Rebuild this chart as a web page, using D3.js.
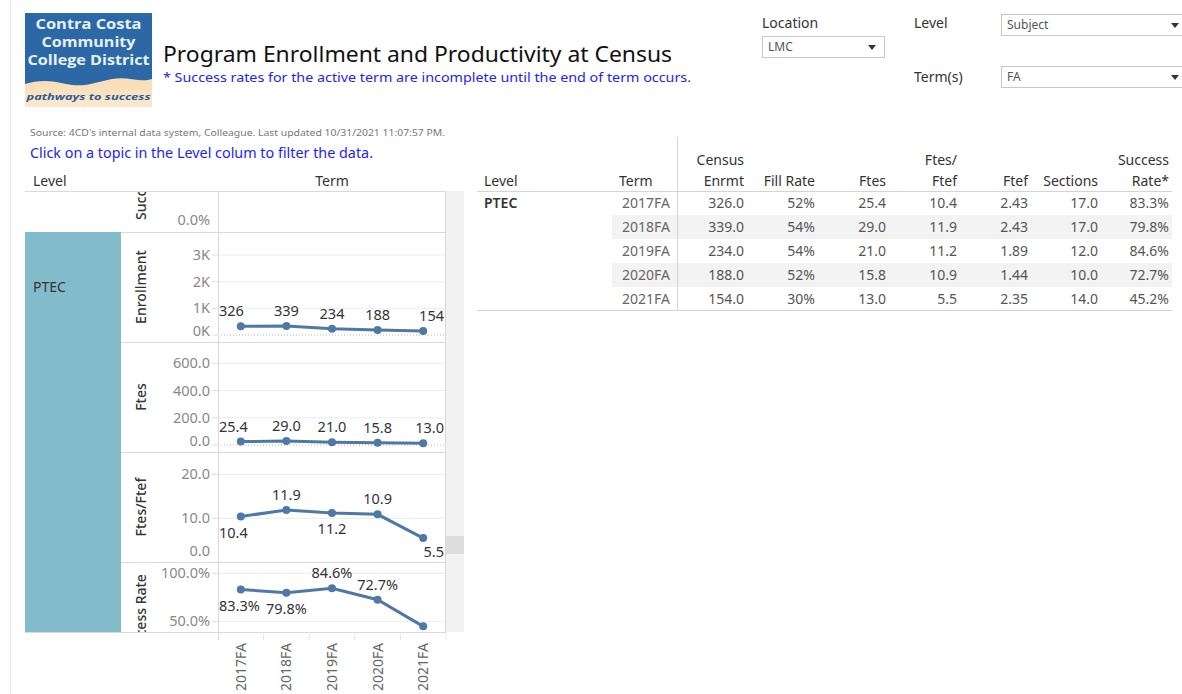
<!DOCTYPE html>
<html><head><meta charset="utf-8">
<script src="https://cdn.jsdelivr.net/npm/d3@7"></script>
<style>
html,body{margin:0;padding:0;background:#fff;}
svg{display:block;font-family:"Noto Sans",sans-serif;}
</style></head>
<body><svg id="c" width="1182" height="694"></svg>
<script>
// ---- data ----
const terms = ["2017FA","2018FA","2019FA","2020FA","2021FA"];
const enrollment = [326, 339, 234, 188, 154];
const ftes = [25.4, 29.0, 21.0, 15.8, 13.0];
const ftesPerFtef = [10.4, 11.9, 11.2, 10.9, 5.5];
const successRate = [83.3, 79.8, 84.6, 72.7, 45.2];
const fillRate = [52, 54, 54, 52, 30];
const ftef = [2.43, 2.43, 1.89, 1.44, 2.35];
const sections = [17.0, 17.0, 12.0, 10.0, 14.0];
const enrollTicks = [0, 1000, 2000, 3000];
const ftesTicks = [0, 200, 400, 600];
const ratioTicks = [0, 10, 20];
const successTicks = [50, 100];
const level = "PTEC";
// label placement (above / below point)
const ratioLabelPos = ["below","above","below","above","below"];
const successLabelPos = ["below","below","above","above","none"];

const svg = d3.select("#c");
const blue = "#4e79a7";
const txt = "#333";
const axGray = "#888";
const lineGray = "#d9d9d9";

svg.append("rect").attr("width",1182).attr("height",694).attr("fill","#fff");
svg.append("line").attr("x1",10.5).attr("x2",10.5).attr("y1",0).attr("y2",694).attr("stroke","#e8e8e8");

// ---- logo ----
const logo = svg.append("g");
const defs = svg.append("defs");
const grad = defs.append("linearGradient").attr("id","sand").attr("x1",0).attr("y1",0).attr("x2",0).attr("y2",1);
grad.append("stop").attr("offset","0%").attr("stop-color","#f2bf75");
grad.append("stop").attr("offset","100%").attr("stop-color","#fbe9cf");
logo.append("rect").attr("x",25).attr("y",13).attr("width",127).attr("height",94).attr("fill","url(#sand)");
logo.append("path").attr("d","M25,13 H152 V79 C140,83 128,76 112,79 C96,82 84,88 66,84 C50,80 38,80 25,84 Z").attr("fill","#2c68a6");
const lt = logo.append("g").attr("fill","#e8f0f8").attr("font-family","'Liberation Sans Narrow','Open Sans',sans-serif").attr("font-weight","bold").attr("text-anchor","middle").attr("font-size",14.5);
[["Contra Costa",29,106],["Community",47,94],["College District",65,122]].forEach(d=>{
  lt.append("text").attr("x",88.5).attr("y",d[1]).attr("textLength",d[2]).attr("lengthAdjust","spacingAndGlyphs").text(d[0]);
});
logo.append("text").attr("x",88.5).attr("y",100).attr("text-anchor","middle").attr("font-size",8.5).attr("font-style","italic").attr("font-weight","bold")
  .attr("fill","#2c5c96").attr("textLength",124).attr("lengthAdjust","spacingAndGlyphs").text("pathways to success");

// ---- titles ----
svg.append("text").attr("x",163).attr("y",62).attr("font-size",22).attr("fill","#111")
  .attr("textLength",509).attr("lengthAdjust","spacingAndGlyphs").text("Program Enrollment and Productivity at Census");
svg.append("text").attr("x",163).attr("y",82).attr("font-size",13).attr("fill","#2424f0")
  .attr("textLength",528).attr("lengthAdjust","spacingAndGlyphs").text("* Success rates for the active term are incomplete until the end of term occurs.");
svg.append("text").attr("x",30).attr("y",136).attr("font-size",8).attr("fill","#777")
  .attr("textLength",415).attr("lengthAdjust","spacingAndGlyphs").text("Source: 4CD's internal data system, Colleague. Last updated 10/31/2021 11:07:57 PM.");
svg.append("text").attr("x",30).attr("y",158).attr("font-size",14).attr("fill","#2424f0")
  .attr("textLength",343).attr("lengthAdjust","spacingAndGlyphs").text("Click on a topic in the Level colum to filter the data.");

// ---- filters ----
function label(x,y,t){ svg.append("text").attr("x",x).attr("y",y).attr("font-size",14).attr("fill",txt).text(t); }
function dropdown(x,y,w,t){
  svg.append("rect").attr("x",x+0.5).attr("y",y+0.5).attr("width",w).attr("height",21).attr("fill","#fff").attr("stroke","#c8c8c8");
  svg.append("text").attr("x",x+6).attr("y",y+15).attr("font-size",12).attr("fill","#555").text(t);
  const ax = x+w-12;
  svg.append("path").attr("d",`M${ax-4},${y+9} L${ax+4},${y+9} L${ax},${y+14} Z`).attr("fill","#333");
}
label(762,28,"Location"); dropdown(762,36,122,"LMC");
label(914,28,"Level"); dropdown(1001,14,186,"Subject");
label(914,82,"Term(s)"); dropdown(1001,66,186,"FA");

// ---- left chart ----
const x = d3.scaleBand().domain(terms).range([218,446]);
svg.append("text").attr("x",33).attr("y",186).attr("font-size",14).attr("fill",txt).text("Level");
svg.append("text").attr("x",332).attr("y",186).attr("font-size",14).attr("fill",txt).attr("text-anchor","middle").text("Term");

// scrollbar
svg.append("rect").attr("x",446).attr("y",191).attr("width",18).attr("height",441).attr("fill","#f2f2f2");
svg.append("rect").attr("x",446).attr("y",536).attr("width",18).attr("height",18).attr("fill","#dcdcdc");

// teal level cell
svg.append("rect").attr("x",25).attr("y",232).attr("width",96).attr("height",400).attr("fill","#82bccb");
svg.append("text").attr("x",33).attr("y",292).attr("font-size",14).attr("fill",txt).text(level);

const panes = [
  {name:"Success Rate", top:122, bot:232, clipTop:191, clipBot:232, y:d3.scaleLinear().domain([50,100]).range([220.7,172.3]), ticks:[], fmt:d=>d.toFixed(1)+"%", values:null, extraLabel:{text:"0.0%", y:224}},
  {name:"Enrollment", top:232, bot:342, clipTop:232, clipBot:342, y:d3.scaleLinear().domain([0,3000]).range([335,255]), ticks:enrollTicks, fmt:d=>(d/1000)+"K", values:enrollment, lfmt:d=>String(d), lpos:["above","above","above","above","above"], zeroDot:true},
  {name:"Ftes", top:342, bot:452, clipTop:342, clipBot:452, y:d3.scaleLinear().domain([0,600]).range([445,363.3]), ticks:ftesTicks, fmt:d=>d.toFixed(1), values:ftes, lfmt:d=>d.toFixed(1), lpos:["above","above","above","above","above"], zeroDot:true},
  {name:"Ftes/Ftef", top:452, bot:562, clipTop:452, clipBot:562, y:d3.scaleLinear().domain([0,20]).range([562.3,474.3]), ticks:ratioTicks, fmt:d=>d.toFixed(1), values:ftesPerFtef, lfmt:d=>d.toFixed(1), lpos:ratioLabelPos},
  {name:"Success Rate", top:562, bot:672, clipTop:562, clipBot:632, y:d3.scaleLinear().domain([50,100]).range([621.7,573.3]), ticks:successTicks, fmt:d=>d.toFixed(1)+"%", values:successRate, lfmt:d=>d.toFixed(1)+"%", lpos:successLabelPos}
];

panes.forEach((p,i)=>{
  const cid = "clip"+i, cid2 = "clipT"+i;
  defs.append("clipPath").attr("id",cid).append("rect").attr("x",121).attr("y",p.clipTop).attr("width",97).attr("height",p.clipBot-p.clipTop);
  defs.append("clipPath").attr("id",cid2).append("rect").attr("x",218).attr("y",p.clipTop).attr("width",228).attr("height",p.clipBot-p.clipTop);
  const ga = svg.append("g").attr("clip-path",`url(#${cid})`);
  const gp = svg.append("g").attr("clip-path",`url(#${cid2})`);
  const cy = (p.top+p.bot)/2;
  ga.append("text").attr("transform",`translate(146,${cy}) rotate(-90)`).attr("text-anchor","middle")
    .attr("font-size",14).attr("font-weight",500).attr("fill",txt).text(p.name);
  p.ticks.forEach(t=>{
    const yy = p.y(t);
    const isZero = (t===0 && p.zeroDot);
    gp.append("line").attr("x1",218).attr("x2",446).attr("y1",yy).attr("y2",yy)
      .attr("stroke", isZero?"#b5b5b5":"#ececec").attr("stroke-dasharray", isZero?"1,2":null);
    let ly = yy;
    if (ly > p.clipBot-11) ly = p.clipBot-11;
    ga.append("line").attr("x1",212).attr("x2",218).attr("y1",yy).attr("y2",yy).attr("stroke","#ddd");
    ga.append("text").attr("x",210).attr("y",ly).attr("dy","0.35em").attr("text-anchor","end").attr("font-size",14.5).attr("fill",axGray).text(p.fmt(t));
  });
  if (p.extraLabel) {
    ga.append("text").attr("x",210).attr("y",p.extraLabel.y-4).attr("dy","0.35em").attr("text-anchor","end").attr("font-size",14.5).attr("fill",axGray).text(p.extraLabel.text);
  }
  if (p.values) {
    const pts = terms.map((t,j)=>({t, v:p.values[j], cx:x(t)+x.bandwidth()/2, cy:p.y(p.values[j])}));
    gp.append("path").datum(pts).attr("fill","none").attr("stroke",blue).attr("stroke-width",3)
      .attr("d", d3.line().x(d=>d.cx).y(d=>d.cy));
    gp.selectAll("circle.pt").data(pts).join("circle").attr("cx",d=>d.cx).attr("cy",d=>d.cy).attr("r",4).attr("fill",blue);
    pts.forEach((d,j)=>{
      const pos = p.lpos[j];
      if (pos==="none") return;
      const s = p.lfmt(d.v);
      let lx = d.cx, anchor = "middle";
      if (j===0) { lx = 219; anchor = "start"; }
      else if (j===pts.length-1) { lx = 444; anchor = "end"; }
      let ly = pos==="above" ? d.cy-15 : d.cy+16;
      if (ly > p.clipBot-10) ly = p.clipBot-10;
      gp.append("text").attr("x",lx).attr("y",ly).attr("dy","0.35em").attr("text-anchor",anchor)
        .attr("font-size",14.5).attr("fill",txt).text(s);
    });
  }
});

// pane borders
[191,232,342,452,562,632].forEach((yy,k)=>{
  svg.append("line").attr("x1",k===0?25:121).attr("x2",446).attr("y1",yy+0.5).attr("y2",yy+0.5).attr("stroke",lineGray);
});
svg.append("line").attr("x1",25).attr("x2",121).attr("y1",632.5).attr("y2",632.5).attr("stroke",lineGray);
svg.append("line").attr("x1",218.5).attr("x2",218.5).attr("y1",191).attr("y2",640).attr("stroke",lineGray);
svg.append("line").attr("x1",445.5).attr("x2",445.5).attr("y1",191).attr("y2",632).attr("stroke",lineGray);

// x axis
const xAxis = svg.append("g");
terms.forEach(t=>{
  const bx = x(t)+x.bandwidth();
  xAxis.append("line").attr("x1",bx).attr("x2",bx).attr("y1",632).attr("y2",640).attr("stroke","#e6e6e6");
  xAxis.append("text").attr("transform",`translate(${x(t)+x.bandwidth()/2},643) rotate(-90)`).attr("text-anchor","end")
    .attr("dy","0.35em").attr("font-size",14).attr("fill","#666").text(t);
});

// ---- table ----
const tbl = svg.append("g");
const rowY = d3.scaleBand().domain(terms).range([191,311]);
[1,3].forEach(j=>{
  tbl.append("rect").attr("x",612).attr("y",rowY(terms[j])).attr("width",560).attr("height",rowY.bandwidth()).attr("fill","#f3f3f3");
});
tbl.append("line").attr("x1",477).attr("x2",1172).attr("y1",191.5).attr("y2",191.5).attr("stroke","#d4d4d4");
tbl.append("line").attr("x1",477).attr("x2",1172).attr("y1",310.5).attr("y2",310.5).attr("stroke","#d4d4d4");
tbl.append("line").attr("x1",677.5).attr("x2",677.5).attr("y1",137).attr("y2",311).attr("stroke","#d4d4d4");

const cols = [
  {h:["Census","Enrmt"], x:744, vals:enrollment.map(d=>d.toFixed(1))},
  {h:["","Fill Rate"], x:815, vals:fillRate.map(d=>d+"%")},
  {h:["","Ftes"], x:886, vals:ftes.map(d=>d.toFixed(1))},
  {h:["Ftes/","Ftef"], x:957, vals:ftesPerFtef.map(d=>d.toFixed(1))},
  {h:["","Ftef"], x:1028, vals:ftef.map(d=>d.toFixed(2))},
  {h:["","Sections"], x:1098, vals:sections.map(d=>d.toFixed(1))},
  {h:["Success","Rate*"], x:1169, vals:successRate.map(d=>d.toFixed(1)+"%")}
];
tbl.append("text").attr("x",484).attr("y",186).attr("font-size",14).attr("fill",txt).text("Level");
tbl.append("text").attr("x",619).attr("y",186).attr("font-size",14).attr("fill",txt).text("Term");
tbl.append("text").attr("x",484).attr("y",rowY(terms[0])+rowY.bandwidth()/2).attr("dy","0.35em").attr("font-size",14).attr("font-weight",600).attr("fill",txt).text(level);
terms.forEach(t=>{
  tbl.append("text").attr("x",670).attr("y",rowY(t)+rowY.bandwidth()/2).attr("dy","0.35em").attr("text-anchor","end").attr("font-size",14).attr("fill","#666").text(t);
});
cols.forEach(c=>{
  if (c.h[0]) tbl.append("text").attr("x",c.x).attr("y",165).attr("text-anchor","end").attr("font-size",14).attr("fill",txt).text(c.h[0]);
  tbl.append("text").attr("x",c.x).attr("y",186).attr("text-anchor","end").attr("font-size",14).attr("fill",txt).text(c.h[1]);
  c.vals.forEach((v,j)=>{
    tbl.append("text").attr("x",c.x).attr("y",rowY(terms[j])+rowY.bandwidth()/2).attr("dy","0.35em").attr("text-anchor","end").attr("font-size",14).attr("fill","#555").text(v);
  });
});
</script></body></html>
